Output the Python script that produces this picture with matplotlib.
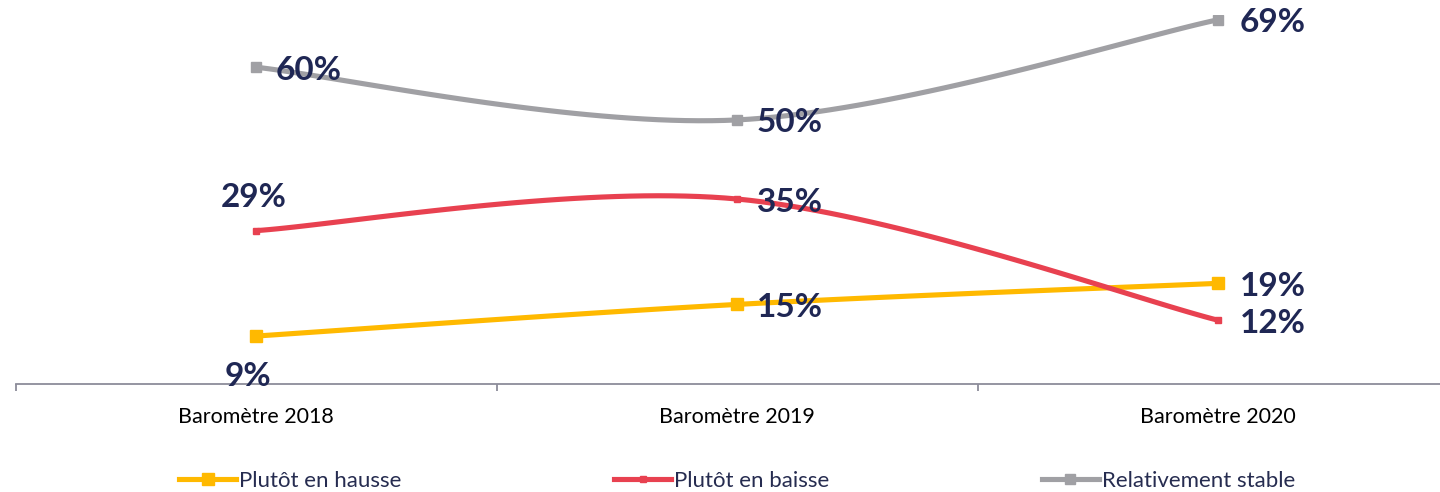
import numpy as np
import matplotlib.pyplot as plt

# ---------------------------------------------------------------
# Data
# ---------------------------------------------------------------
categories = ['Baromètre 2018', 'Baromètre 2019', 'Baromètre 2020']
hausse = [9, 15, 19]
baisse = [29, 35, 12]
stable = [60, 50, 69]
series_names = ['Plutôt en hausse', 'Plutôt en baisse', 'Relativement stable']

COLORS = {'hausse': '#FFB900', 'baisse': '#E84150', 'stable': '#A0A0A4',
          'label': '#1F2754', 'legend': '#262C50', 'axis': '#8C8C9A'}

plt.rcParams['font.family'] = ['Lato', 'DejaVu Sans']


def smooth(y, n=40):
    # Excel-style smoothed line: Catmull-Rom as cubic Bezier segments
    x = np.arange(len(y), dtype=float)
    y = np.asarray(y, dtype=float)
    pts = np.column_stack([x, y])
    out = []
    for i in range(len(pts) - 1):
        p0 = pts[max(i - 1, 0)]
        p1 = pts[i]
        p2 = pts[i + 1]
        p3 = pts[min(i + 2, len(pts) - 1)]
        c1 = p1 + (p2 - p0) / 6
        c2 = p2 - (p3 - p1) / 6
        t = np.linspace(0, 1, n)[:, None]
        seg = ((1 - t) ** 3) * p1 + 3 * ((1 - t) ** 2) * t * c1 + 3 * (1 - t) * t ** 2 * c2 + t ** 3 * p2
        out.append(seg if i == 0 else seg[1:])
    seg = np.vstack(out)
    return seg[:, 0], seg[:, 1]


fig = plt.figure(figsize=(14.4, 4.92), dpi=100)
ax = fig.add_axes([15.5 / 1440, (492 - 383.5) / 492, 1443 / 1440, 369 / 492])

x = np.arange(len(categories))
specs = [
    (hausse, COLORS['hausse'], 8.0),
    (baisse, COLORS['baisse'], 5.0),
    (stable, COLORS['stable'], 7.5),
]
handles = []
for vals, col, ms in specs:
    sx, sy = smooth(vals)
    ax.plot(sx, sy, color=col, lw=3.7, solid_capstyle='butt', zorder=2)
    ax.plot(x, vals, ls='none', marker='s', ms=ms, color=col, zorder=3)
    h, = ax.plot([], [], color=col, lw=3.7, marker='s', ms=ms)
    handles.append(h)

# data labels: (series, index, ha, va, dx px, dy px)
label_pos = [
    (hausse, 0, 'center', 'top', -8, -26),
    (hausse, 1, 'left', 'center', 20, -3),
    (hausse, 2, 'left', 'center', 22, -3),
    (baisse, 0, 'center', 'bottom', -2, 19),
    (baisse, 1, 'left', 'center', 20, -3),
    (baisse, 2, 'left', 'center', 22, -3),
    (stable, 0, 'left', 'center', 20, -3),
    (stable, 1, 'left', 'center', 20, -3),
    (stable, 2, 'left', 'center', 22, -3),
]
for vals, i, ha, va, dx, dy in label_pos:
    ax.annotate(f'{vals[i]}%', (i, vals[i]), xytext=(dx * 0.72, dy * 0.72),
                textcoords='offset points', ha=ha, va=va, fontsize=24,
                fontweight='bold', color=COLORS['label'], zorder=4)

ax.set_xlim(-0.5, 2.5)
ax.set_ylim(0, 70)
ax.set_yticks([])
for s in ('top', 'right', 'left'):
    ax.spines[s].set_visible(False)
ax.spines['bottom'].set_color(COLORS['axis'])
ax.spines['bottom'].set_linewidth(1.3)
ax.set_xticks(x)
ax.set_xticklabels(categories, fontsize=15.5, color='black')
ax.tick_params(axis='x', which='major', length=0, pad=17)
ax.set_xticks([-0.5, 0.5, 1.5, 2.5], minor=True)
ax.tick_params(axis='x', which='minor', length=5, width=1.3, color=COLORS['axis'])

leg = fig.legend(handles, series_names, ncol=3, loc='center',
                 bbox_to_anchor=(0.512, 1 - 481 / 492), frameon=False,
                 fontsize=16, handlelength=2.57, handletextpad=0.15,
                 columnspacing=9.55, borderpad=0)
for t in leg.get_texts():
    t.set_color(COLORS['legend'])

fig.savefig('out.png', dpi=100)
